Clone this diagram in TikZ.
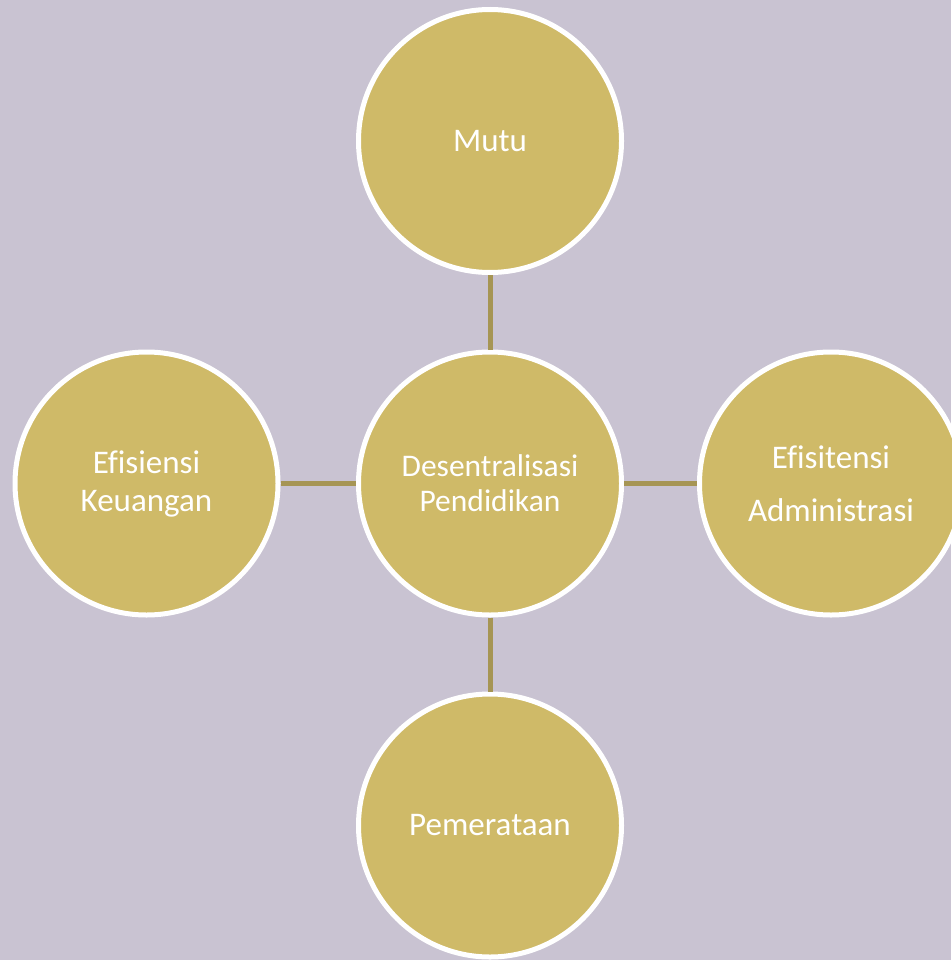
\documentclass[tikz,border=0pt]{standalone}
\usepackage{fontspec}
\setmainfont{Carlito}[Ligatures=NoCommon]
\definecolor{bgc}{HTML}{C9C3D2}
\definecolor{goldc}{HTML}{CFBA68}
\definecolor{linec}{HTML}{A69554}
\begin{document}
\begin{tikzpicture}[x=1pt,y=-1pt,
  bubble/.style={circle,fill=goldc,draw=white,line width=5pt,minimum size=263pt,inner sep=0pt,text=white,align=center,font=\fontsize{33}{38}\selectfont},
  link/.style={draw=linec,line width=5pt}]
\fill[bgc] (0,0) rectangle (951,960);
\useasboundingbox (0,0) rectangle (951,960);
\node[bubble] (top) at (490,141) {Mutu};
\node[bubble,font=\fontsize{31.5}{35}\selectfont] (mid) at (490,483.5) {Desentralisasi\\Pendidikan};
\node[bubble] (bot) at (490,825.5) {Pemerataan};
\node[bubble] (left) at (146.5,483.5) {Efisiensi\\Keuangan};
\node[bubble,font=\fontsize{33}{53}\selectfont] (right) at (831,483.5) {Efisitensi\\Administrasi};
\draw[link] (top) -- (mid);
\draw[link] (mid) -- (bot);
\draw[link] (left) -- (mid);
\draw[link] (mid) -- (right);
\end{tikzpicture}
\end{document}
